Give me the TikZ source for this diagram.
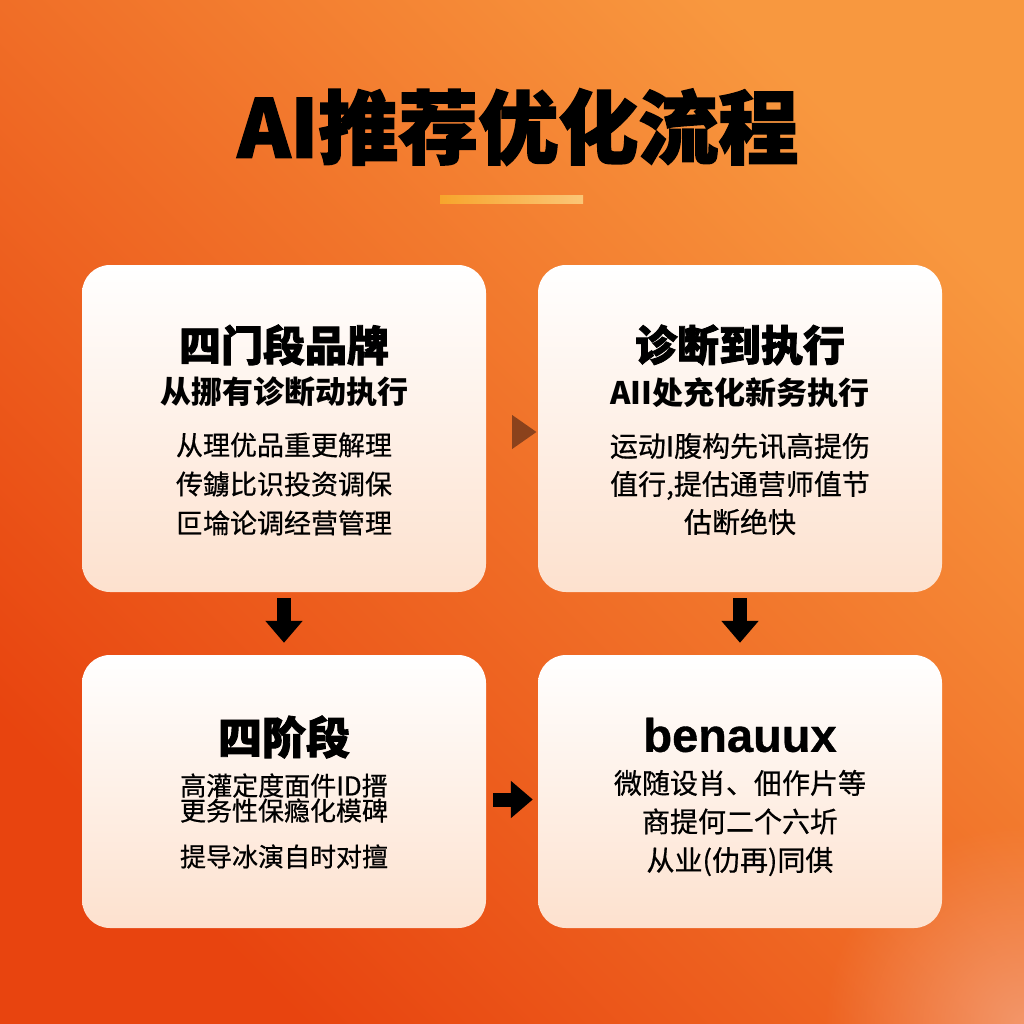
\documentclass[tikz,border=0pt]{standalone}
\usepackage{fontspec}
\setmainfont{Noto Sans CJK SC}
\newfontfamily\heavyfont{Noto Sans CJK SC}[BoldFeatures={FakeBold=2}]
\newfontfamily\bodyfont{Noto Sans CJK SC}[FakeBold=0.6]
\newfontfamily\latinbold{Liberation Sans}[BoldFeatures={FakeBold=0.8}]
\usetikzlibrary{arrows.meta, positioning, shapes.geometric, fadings}
\definecolor{bgdark}{HTML}{E8440F}
\definecolor{bglight}{HTML}{F8983F}
\definecolor{glowpeach}{HTML}{F4A07A}
\definecolor{cardpeach}{HTML}{FDE1CE}
\definecolor{barleft}{HTML}{F7A52C}
\definecolor{barright}{HTML}{FBC677}
\definecolor{hintbrown}{HTML}{7A3A1A}
\tikzfading[name=glowfade, inner color=transparent!0, outer color=transparent!100]

\begin{document}
\begin{tikzpicture}[
    x=1pt, y=-1pt,
    card/.style={rectangle, rounded corners=28pt, minimum width=404pt, top color=white, bottom color=cardpeach, draw=none},
    headline/.style={font=\heavyfont\bfseries\fontsize{42}{46}\selectfont},
    subline/.style={font=\bfseries\fontsize{31}{34}\selectfont},
    bodyline/.style={font=\bodyfont\fontsize{27}{39}\selectfont, align=center},
    myarrow/.style={line width=14pt, -{Triangle[length=22pt, width=36pt]}}
]

% Background
\useasboundingbox (0,0) rectangle (1024,1024);
\shade[top color=bglight, bottom color=bgdark, shading angle=-45] (0,0) rectangle (1024,1024);
\fill[glowpeach, opacity=0.8, path fading=glowfade] (1024,1024) circle (200);

% Title
\node[font=\heavyfont\bfseries\fontsize{80}{84}\selectfont] (Title) at (518,127) {AI推荐优化流程};
\shade[left color=barleft, right color=barright] (440,196) rectangle (583,204);

% Cards
\node[card, minimum height=327pt] (Brand) at (284,428.5) {};
\node[card, minimum height=327pt] (Execute) at (740,428.5) {};
\node[card, minimum height=273pt] (Stage) at (284,791.5) {};
\node[card, minimum height=273pt] (Bena) at (740,791.5) {};

% Texts
\node[headline] (BrandHead) at (284,345) {四门段品牌};
\node[subline] (BrandSub) at (284,392) {从挪有诊断动执行};
\node[bodyline] (BrandBody) at (284,484) {从理优品重更解理\\传鐪比识投资调保\\叵埨论调经营管理};

\node[headline] (ExecuteHead) at (740,345) {诊断到执行};
\node[subline] (ExecuteSub) at (740,393) {AII处充化新务执行};
\node[bodyline, font=\bodyfont\fontsize{28}{38}\selectfont] (ExecuteBody) at (740,484) {运动I腹构先讯高提伤\\值行,提估通营师值节\\估断绝快};

\node[headline, font=\heavyfont\bfseries\fontsize{44}{48}\selectfont] (StageHead) at (284,737) {四阶段};
\node[bodyline, font=\bodyfont\fontsize{26}{25}\selectfont] (StageBody) at (284,821) {高灌定度面件ID搢\\更务性保瘾化模碑\\[21pt]提导冰演自时对擅};

\node[font=\latinbold\bfseries\fontsize{47}{50}\selectfont] (BenaHead) at (740,735) {benauux};
\node[bodyline, font=\bodyfont\fontsize{28}{38.5}\selectfont] (BenaBody) at (740,823) {微随设肖、佃作片等\\商提何二个六圻\\从业(仂再)同倛};

% Paths
\node[isosceles triangle, isosceles triangle apex angle=70, fill=hintbrown, fill opacity=0.85, inner sep=0pt, minimum height=22pt, minimum width=34pt] (Hint) at (521,432) {};
\draw[myarrow, shorten <=6pt, shorten >=12pt] (Brand.south) -- (Stage.north);
\draw[myarrow, shorten <=6pt, shorten >=12pt] (Execute.south) -- (Bena.north);
\draw[myarrow, shorten <=7pt, shorten >=5pt] ([yshift=-8pt]Stage.east) -- ([yshift=-8pt]Bena.west);

\end{tikzpicture}
\end{document}
